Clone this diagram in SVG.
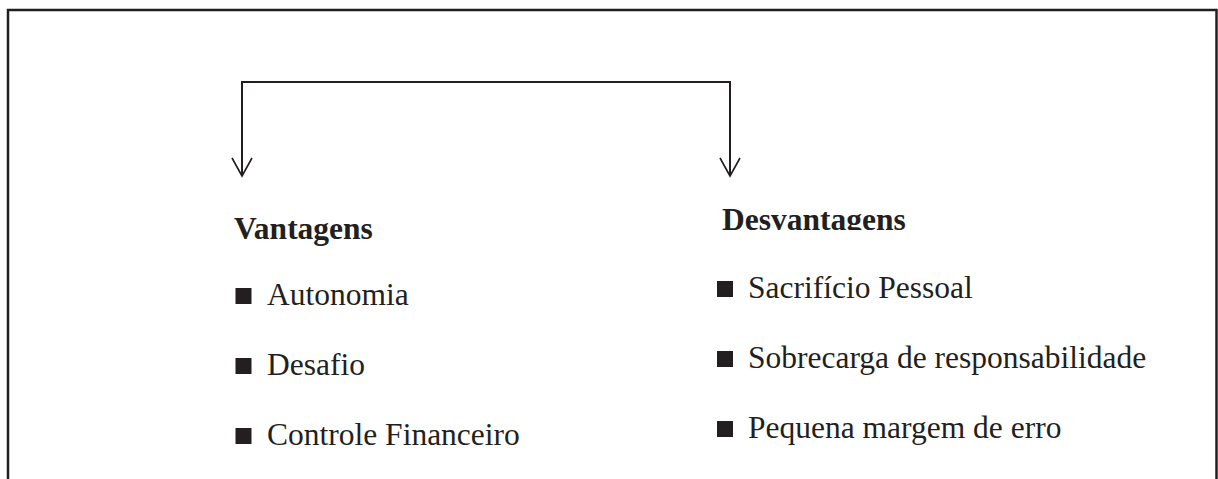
<svg xmlns="http://www.w3.org/2000/svg" width="1218" height="479" viewBox="0 0 1218 479">
  <style>
    .frame { fill: none; stroke: #231f20; stroke-width: 2.5; }
    .conn { fill: none; stroke: #231f20; stroke-width: 2; }
    .head { fill: none; stroke: #231f20; stroke-width: 1.6; }
    .title { font-family: "Liberation Serif", "Times New Roman", serif; font-weight: bold; font-size: 31.5px; fill: #231f20; }
    .item { font-family: "Liberation Serif", "Times New Roman", serif; font-size: 31.5px; fill: #231f20; }
    .bullet { fill: #231f20; }
  </style>
  <defs>
    <clipPath id="clipDes">
      <rect x="700" y="190" width="300" height="40"/>
    </clipPath>
  </defs>
  <rect width="1218" height="479" fill="#ffffff"/>
  <path class="frame" d="M8,482 V10 H1216.5 V482"/>
  <g id="connectors">
    <path class="conn" d="M242,176 V82 H730 V176"/>
    <path class="head" d="M232,158 L242,176 L252,158"/>
    <path class="head" d="M720,158 L730,176 L740,158"/>
  </g>
  <g id="vantagens">
    <text class="title" x="234" y="239">Vantagens</text>
    <rect class="bullet" x="235.5" y="288" width="16" height="16"/>
    <text class="item" x="267" y="305">Autonomia</text>
    <rect class="bullet" x="235.5" y="358" width="16" height="16"/>
    <text class="item" x="267" y="375">Desafio</text>
    <rect class="bullet" x="235.5" y="428" width="16" height="16"/>
    <text class="item" x="267" y="445">Controle Financeiro</text>
  </g>
  <g id="desvantagens">
    <text class="title" x="722" y="230" clip-path="url(#clipDes)">Desvantagens</text>
    <rect class="bullet" x="717" y="281" width="16" height="16"/>
    <text class="item" x="748" y="298">Sacrifício Pessoal</text>
    <rect class="bullet" x="717" y="351" width="16" height="16"/>
    <text class="item" x="748" y="368">Sobrecarga de responsabilidade</text>
    <rect class="bullet" x="717" y="421" width="16" height="16"/>
    <text class="item" x="748" y="438">Pequena margem de erro</text>
  </g>
</svg>
